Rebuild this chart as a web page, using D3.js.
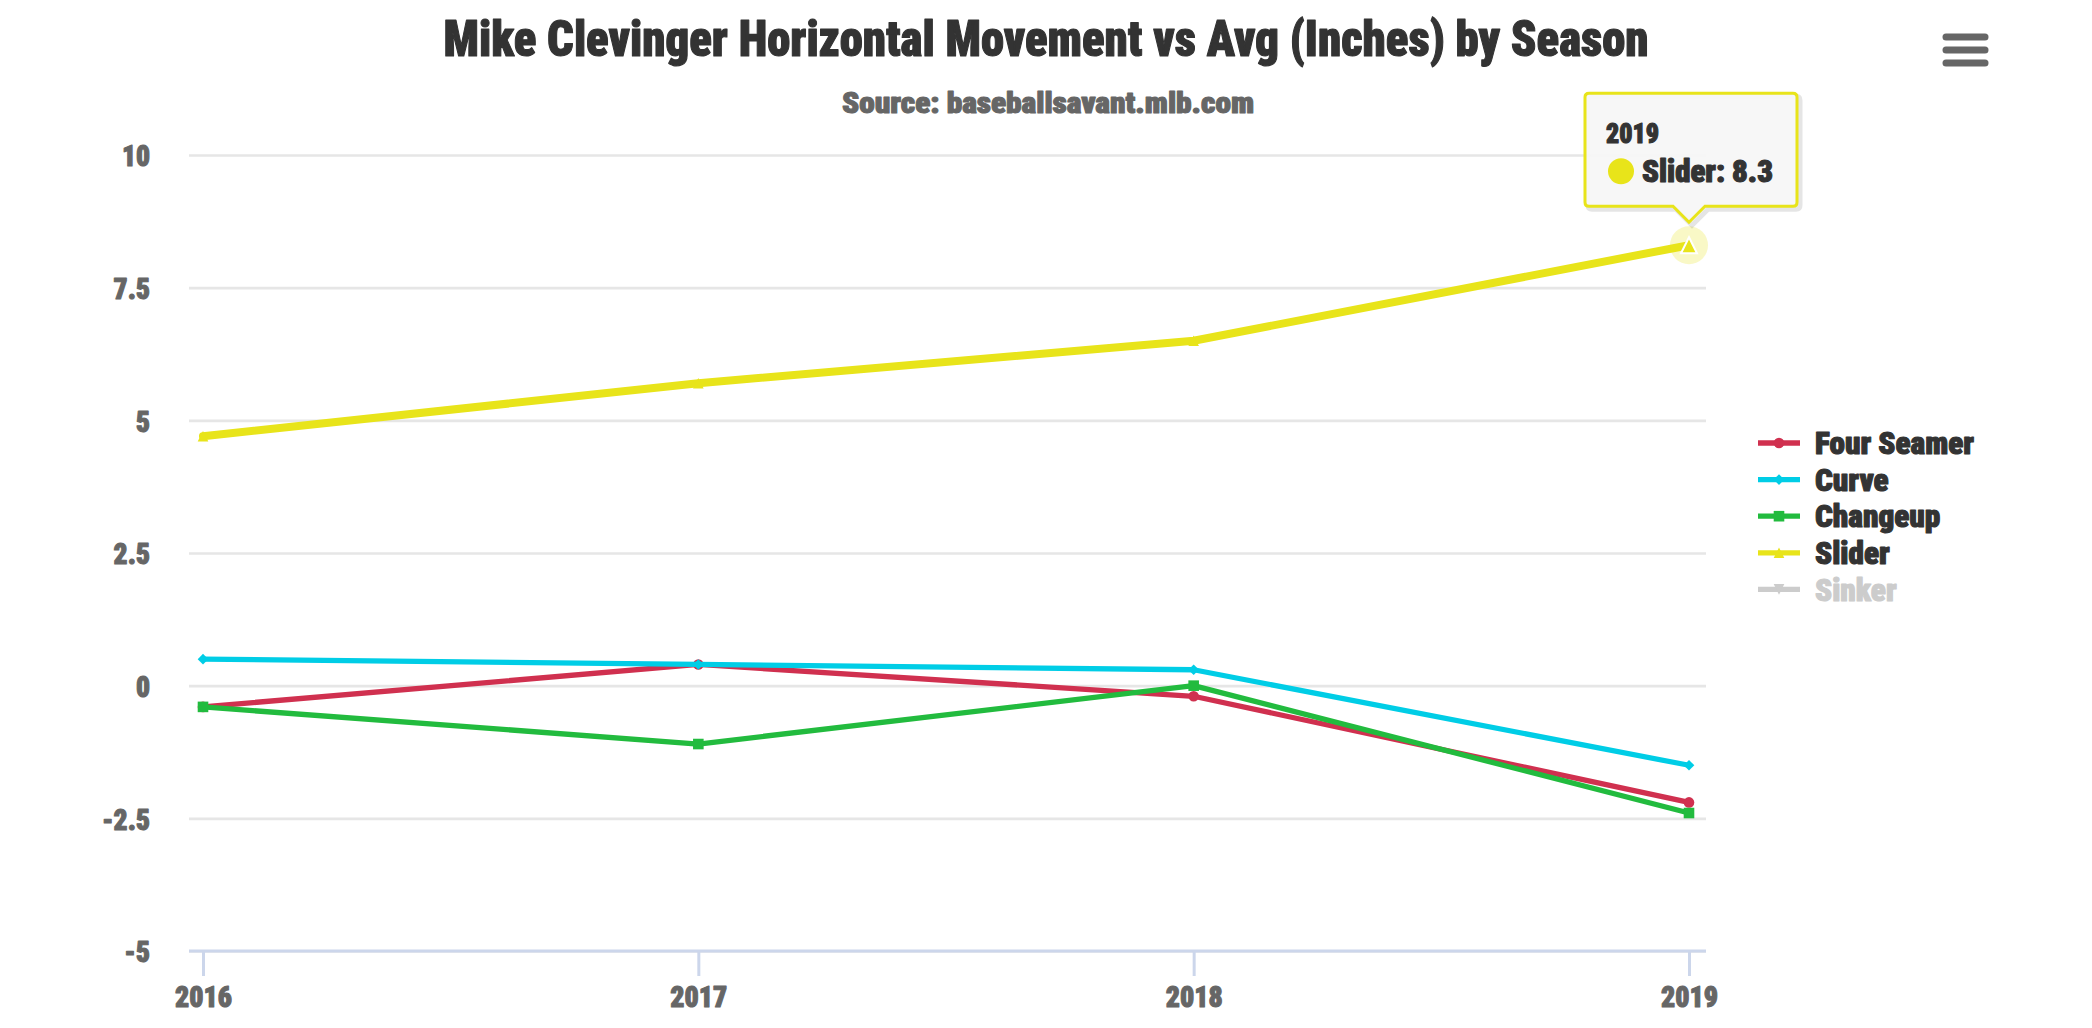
<!DOCTYPE html>
<html>
<head>
<meta charset="utf-8">
<script src="https://cdn.jsdelivr.net/npm/d3@7"></script>
<style>
  body { margin: 0; background: #fff; }
  svg text { font-family: "Roboto Condensed", "Roboto", sans-serif; font-weight: 900; stroke-width: 1.1px; stroke-linejoin: round; }
</style>
</head>
<body>
<div id="chart"></div>
<script>
// season categories and series values (inches vs avg)
var seasons = [2016, 2017, 2018, 2019];
var fourSeamer = [-0.4, 0.4, -0.2, -2.2];
var curve = [0.5, 0.4, 0.3, -1.5];
var changeup = [-0.4, -1.1, 0.0, -2.4];
var slider = [4.7, 5.7, 6.5, 8.3];
var sinker = []; // hidden in legend
var yTicks = [-5, -2.5, 0, 2.5, 5, 7.5, 10];
var seriesNames = ['Four Seamer', 'Curve', 'Changeup', 'Slider', 'Sinker'];
var seriesColors = ['#d0304f', '#00cde6', '#22bb3e', '#e8e41a', '#cccccc'];
var seriesSymbols = ['circle', 'diamond', 'square', 'triangle', 'triangle-down'];

var W = 2092, H = 1028;
var plot = { left: 189, right: 1706, top: 155, bottom: 951 };

var series = [fourSeamer, curve, changeup, slider, sinker].map(function(v, i) {
  return { name: seriesNames[i], values: v, color: seriesColors[i], symbol: seriesSymbols[i], visible: i < 4 };
});

var svg = d3.select('#chart').append('svg').attr('width', W).attr('height', H);

var x = d3.scaleLinear().domain([2016, 2019]).range([203, 1689]);
var y = d3.scaleLinear().domain([-5, 10]).range([plot.bottom, plot.top]);

// marker path generator, r = half size
function symbolPath(type, r) {
  switch (type) {
    case 'circle': return 'M' + (-r) + ',0a' + r + ',' + r + ' 0 1,0 ' + (2 * r) + ',0a' + r + ',' + r + ' 0 1,0 ' + (-2 * r) + ',0Z';
    case 'square': return 'M' + (-r) + ',' + (-r) + 'h' + (2 * r) + 'v' + (2 * r) + 'h' + (-2 * r) + 'Z';
    case 'diamond': return 'M0,' + (-r) + 'L' + r + ',0L0,' + r + 'L' + (-r) + ',0Z';
    case 'triangle': return 'M0,' + (-r) + 'L' + r + ',' + r + 'L' + (-r) + ',' + r + 'Z';
    default: return 'M' + (-r) + ',' + (-r) + 'L' + r + ',' + (-r) + 'L0,' + r + 'Z';
  }
}

// squeeze a group of texts so that the reference one gets the wanted width
function condense(sel, refNode, width) {
  var k = width / refNode.getComputedTextLength();
  sel.each(function() {
    var w = this.getComputedTextLength();
    d3.select(this).attr('textLength', w * k).attr('lengthAdjust', 'spacingAndGlyphs')
      .attr('stroke', d3.select(this).attr('fill'));
  });
}

// title + subtitle
var title = svg.append('text').attr('x', 1046).attr('y', 56).attr('text-anchor', 'middle')
  .attr('fill', '#333').style('font-size', '50px').text('Mike Clevinger Horizontal Movement vs Avg (Inches) by Season');
var subtitle = svg.append('text').attr('x', 1048).attr('y', 113).attr('text-anchor', 'middle')
  .attr('fill', '#666').style('font-size', '30px').text('Source: baseballsavant.mlb.com');
condense(title, title.node(), 1205);
condense(subtitle, subtitle.node(), 412);

// menu icon
svg.append('g').selectAll('line').data([37, 50, 63]).join('line')
  .attr('x1', 1946).attr('x2', 1985).attr('y1', function(d) { return d; }).attr('y2', function(d) { return d; })
  .attr('stroke', '#666').attr('stroke-width', 7).attr('stroke-linecap', 'round');

// y axis with grid
var yAxis = d3.axisLeft(y).tickValues(yTicks).tickSize(-(plot.right - plot.left)).tickPadding(39)
  .tickFormat(function(d) { return String(d); });
var yg = svg.append('g').attr('transform', 'translate(' + plot.left + ',0)').call(yAxis);
yg.select('.domain').remove();
yg.selectAll('.tick line').attr('stroke', '#e6e6e6').attr('stroke-width', 2.7);
var yLabels = yg.selectAll('.tick text').attr('fill', '#666').attr('dy', '0.36em').style('font-size', '30px');
condense(yLabels, yLabels.filter(function(d) { return d === -2.5; }).node(), 48);

// x axis
var xAxis = d3.axisBottom(x).tickValues(seasons).tickSize(25).tickPadding(10).tickFormat(d3.format('d'));
var xg = svg.append('g').attr('transform', 'translate(0,' + plot.bottom + ')').call(xAxis);
xg.select('.domain').attr('d', 'M' + plot.left + ',0H' + plot.right).attr('stroke', '#ccd6eb').attr('stroke-width', 3);
xg.selectAll('.tick line').attr('stroke', '#ccd6eb').attr('stroke-width', 3);
var xLabels = xg.selectAll('.tick text').attr('fill', '#666').attr('dy', '0.71em').style('font-size', '30px');
condense(xLabels, xLabels.node(), 57);

// lines
var line = d3.line().x(function(d, i) { return x(seasons[i]); }).y(function(d) { return y(d); });
var lineG = svg.append('g');
series.forEach(function(s) {
  if (!s.visible || !s.values.length) return;
  var g = lineG.append('g');
  g.append('path').datum(s.values).attr('d', line).attr('fill', 'none')
    .attr('stroke', s.color).attr('stroke-width', s.name === 'Slider' ? 8 : 5.3)
    .attr('stroke-linejoin', 'round').attr('stroke-linecap', 'round');
  g.selectAll('path.m').data(s.values).join('path').attr('class', 'm')
    .attr('transform', function(d, i) { return 'translate(' + x(seasons[i]) + ',' + y(d) + ')'; })
    .attr('d', symbolPath(s.symbol, 5.3)).attr('fill', s.color);
});

// hover state on slider 2019
var hi = seasons.length - 1;
var hx = x(seasons[hi]), hy = y(slider[hi]);
svg.append('circle').attr('cx', hx).attr('cy', hy).attr('r', 19).attr('fill', '#e8e41a').attr('fill-opacity', 0.25);
svg.append('path').attr('transform', 'translate(' + hx + ',' + hy + ')').attr('d', symbolPath('triangle', 8))
  .attr('fill', '#e8e41a').attr('stroke', '#fff').attr('stroke-width', 2);

// legend
var legend = svg.append('g').attr('transform', 'translate(1758,443)');
var li = legend.selectAll('g').data(series).join('g')
  .attr('transform', function(d, i) { return 'translate(0,' + (i * 36.6) + ')'; });
li.append('line').attr('x1', 0).attr('x2', 42).attr('stroke', function(d) { return d.visible ? d.color : '#ccc'; }).attr('stroke-width', 5.3);
li.append('path').attr('transform', 'translate(21,0)').attr('d', function(d) { return symbolPath(d.symbol, 5.3); })
  .attr('fill', function(d) { return d.visible ? d.color : '#ccc'; });
var legendText = li.append('text').attr('x', 57).attr('dy', '0.36em').attr('fill', function(d) { return d.visible ? '#333' : '#ccc'; })
  .style('font-size', '31px').text(function(d) { return d.name; });
condense(legendText, legendText.node(), 159);

// tooltip
var tip = svg.append('g').attr('transform', 'translate(' + hx + ',' + (hy - 23) + ')');
var bl = -104, br = 108, bt = -129, bb = -16, rr = 4;
var tipPath = 'M' + (bl + rr) + ',' + bt + 'H' + (br - rr) + 'Q' + br + ',' + bt + ' ' + br + ',' + (bt + rr) +
  'V' + (bb - rr) + 'Q' + br + ',' + bb + ' ' + (br - rr) + ',' + bb + 'H16L0,0L-16,' + bb +
  'H' + (bl + rr) + 'Q' + bl + ',' + bb + ' ' + bl + ',' + (bb - rr) + 'V' + (bt + rr) + 'Q' + bl + ',' + bt + ' ' + (bl + rr) + ',' + bt + 'Z';
tip.append('path').attr('d', tipPath).attr('transform', 'translate(3,3)').attr('fill', 'none')
  .attr('stroke', '#000').attr('stroke-opacity', 0.1).attr('stroke-width', 5);
tip.append('path').attr('d', tipPath).attr('fill', '#f7f7f7').attr('fill-opacity', 0.95)
  .attr('stroke', '#e8e41a').attr('stroke-width', 3);
var tipHead = tip.append('text').attr('x', bl + 21).attr('y', bt + 50).attr('fill', '#333').style('font-size', '27px').text(String(seasons[hi]));
tip.append('circle').attr('cx', bl + 36).attr('cy', bt + 78).attr('r', 13).attr('fill', '#e8e41a');
var tipVal = tip.append('text').attr('x', bl + 57).attr('y', bt + 89).attr('fill', '#333').style('font-size', '31px').text('Slider: ' + slider[hi]);
condense(tipHead, tipHead.node(), 53);
condense(tipVal, tipVal.node(), 131);
</script>
</body>
</html>
